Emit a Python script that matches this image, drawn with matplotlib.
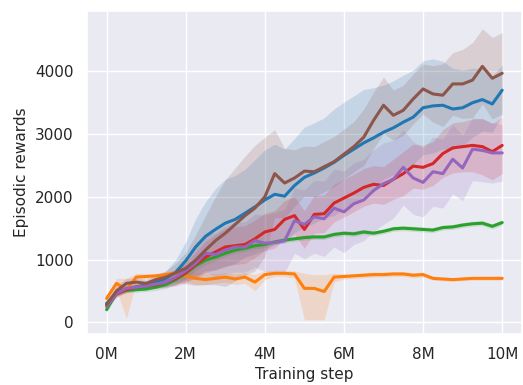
import numpy as np
import matplotlib
matplotlib.use("Agg")
import matplotlib.pyplot as plt
import seaborn as sns

# Training steps (every 0.25M steps, 0 .. 10M)
steps = np.linspace(0, 10e6, 41)

# Mean episodic reward per run
blue = [300, 470, 540, 560, 600, 640, 700, 800, 980, 1200, 1370, 1480, 1580, 1640, 1740, 1840,
        1950, 2040, 2010, 2180, 2310, 2380, 2460, 2550, 2660, 2760, 2860, 2940, 3030, 3100, 3190,
        3270, 3420, 3450, 3460, 3400, 3420, 3500, 3550, 3480, 3700]
orange = [380, 620, 520, 720, 730, 740, 760, 790, 740, 700, 680, 700, 720, 690, 720, 640, 760,
          780, 780, 770, 540, 540, 490, 720, 730, 740, 750, 760, 760, 770, 770, 750, 760, 700,
          690, 680, 690, 700, 700, 700, 700]
green = [200, 470, 510, 520, 530, 560, 600, 680, 780, 900, 990, 1040, 1100, 1150, 1180, 1220,
         1240, 1280, 1310, 1330, 1350, 1360, 1360, 1400, 1420, 1410, 1440, 1420, 1450, 1490, 1500,
         1490, 1480, 1470, 1510, 1520, 1550, 1570, 1580, 1530, 1590]
red = [280, 450, 520, 560, 580, 600, 640, 700, 790, 920, 1040, 1120, 1200, 1220, 1240, 1330,
       1440, 1480, 1640, 1700, 1480, 1720, 1730, 1900, 1980, 2060, 2150, 2200, 2180, 2280, 2370,
       2490, 2470, 2530, 2690, 2780, 2800, 2820, 2800, 2720, 2820]
purple = [250, 460, 540, 560, 580, 610, 640, 720, 820, 940, 1100, 1080, 1150, 1200, 1200, 1300,
          1260, 1270, 1300, 1620, 1560, 1680, 1650, 1820, 1760, 1890, 1950, 2100, 2210, 2280, 2470,
          2300, 2230, 2400, 2370, 2600, 2460, 2760, 2740, 2700, 2700]
brown = [280, 500, 620, 640, 620, 680, 720, 790, 860, 990, 1150, 1300, 1420, 1560, 1700, 1820,
         2000, 2370, 2220, 2300, 2410, 2400, 2480, 2560, 2680, 2800, 2950, 3220, 3460, 3300, 3380,
         3560, 3720, 3640, 3620, 3800, 3800, 3860, 4080, 3890, 3970]

# Spread (half-width of the shaded band) per run
blue_sd = [60, 60, 60, 60, 60, 80, 120, 200, 300, 450, 550, 650, 700, 700, 700, 750, 800, 800,
           750, 750, 800, 800, 800, 850, 850, 850, 850, 800, 750, 750, 750, 750, 750, 750, 700,
           650, 600, 550, 500, 450, 400]
green_sd = [40, 40, 40, 40, 40, 50, 60, 70, 80, 80, 70, 60, 50, 50, 50, 50, 50, 40, 40, 40, 40,
            40, 40, 40, 40, 40, 40, 40, 40, 40, 40, 40, 40, 40, 40, 40, 40, 40, 40, 40, 40]
red_sd = [50, 50, 50, 50, 50, 60, 80, 120, 160, 200, 250, 280, 300, 300, 300, 300, 300, 300, 300,
          300, 300, 300, 300, 300, 300, 300, 300, 300, 300, 320, 350, 350, 350, 350, 380, 400, 400,
          420, 450, 450, 450]
purple_sd = [50, 50, 50, 50, 50, 60, 80, 120, 160, 250, 300, 350, 380, 400, 400, 420, 450, 480,
             500, 520, 550, 580, 600, 620, 650, 650, 650, 650, 650, 620, 600, 580, 550, 550, 550,
             550, 520, 500, 500, 480, 450]
brown_sd = [60, 80, 80, 60, 60, 80, 100, 150, 250, 400, 550, 700, 850, 900, 950, 1000, 950, 700,
            550, 450, 400, 400, 400, 400, 400, 400, 450, 450, 450, 400, 400, 400, 400, 450, 500,
            500, 550, 600, 600, 650, 650]

# The orange run has a lopsided band, so its edges are given directly
orange_lo = [330, 520, 60, 650, 690, 700, 720, 740, 650, 600, 600, 620, 640, 600, 620, 500, 680,
             730, 730, 700, 40, 40, 40, 640, 690, 700, 710, 720, 720, 730, 730, 710, 720, 670,
             660, 650, 660, 670, 670, 670, 670]
orange_hi = [430, 700, 700, 780, 770, 780, 800, 830, 820, 800, 780, 770, 790, 770, 790, 760, 820,
             830, 830, 820, 780, 760, 760, 780, 770, 780, 790, 800, 800, 810, 810, 790, 800, 730,
             720, 710, 720, 730, 730, 730, 730]

xtick_values = [0, 2e6, 4e6, 6e6, 8e6, 10e6]
xtick_labels = ["0M", "2M", "4M", "6M", "8M", "10M"]
ytick_values = [0, 1000, 2000, 3000, 4000]

sns.set_theme(style="darkgrid")
plt.rcParams["font.family"] = ["DejaVu Sans"]
plt.rcParams["axes.labelsize"] = 11
plt.rcParams["xtick.labelsize"] = 11
plt.rcParams["ytick.labelsize"] = 11

fig = plt.figure(figsize=(5.23, 3.85), dpi=100)
ax = fig.add_axes([0.166, 0.132, 0.832, 0.839])

runs = [
    ("tab:blue", blue, np.array(blue) - np.array(blue_sd), np.array(blue) + np.array(blue_sd)),
    ("tab:orange", orange, orange_lo, orange_hi),
    ("tab:green", green, np.array(green) - np.array(green_sd), np.array(green) + np.array(green_sd)),
    ("tab:red", red, np.array(red) - np.array(red_sd), np.array(red) + np.array(red_sd)),
    ("tab:purple", purple, np.array(purple) - np.array(purple_sd), np.array(purple) + np.array(purple_sd)),
    ("tab:brown", brown, np.array(brown) - np.array(brown_sd), np.array(brown) + np.array(brown_sd)),
]

for color, mean, lo, hi in runs:
    ax.fill_between(steps, lo, hi, color=color, alpha=0.18, linewidth=0)
for color, mean, lo, hi in runs:
    ax.plot(steps, mean, color=color, linewidth=2.2)

ax.set_xlim(-0.5e6, 10.5e6)
ax.set_ylim(-190, 4960)
ax.set_xticks(xtick_values)
ax.set_xticklabels(xtick_labels)
ax.set_yticks(ytick_values)
ax.tick_params(axis="y", pad=3.5)
ax.set_xlabel("Training step", labelpad=3)
ax.set_ylabel("Episodic rewards", labelpad=4)

fig.savefig("out.png", dpi=100)
